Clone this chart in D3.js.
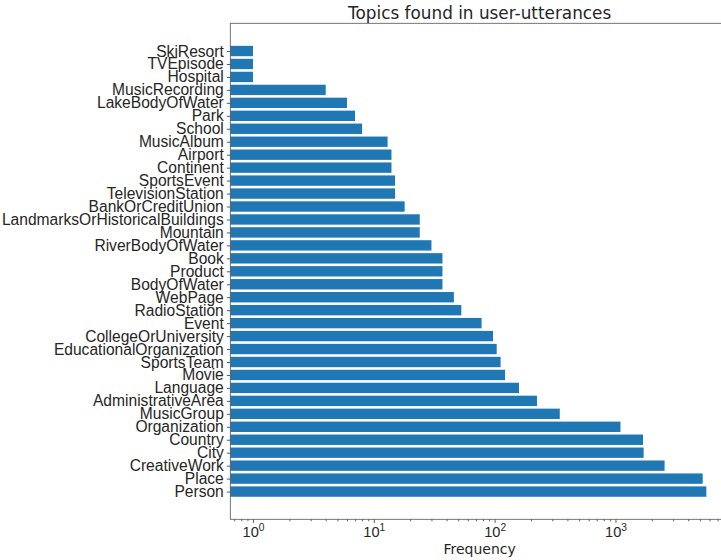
<!DOCTYPE html>
<html>
<head>
<meta charset="utf-8">
<script src="https://cdn.jsdelivr.net/npm/d3@7"></script>
<style>
  body { margin: 0; background: #fff; }
  svg { display: block; font-family: "DejaVu Sans", sans-serif; }
</style>
</head>
<body>
<div id="chart"></div>
<script>
// bottom to top, as plotted
var topics = ["Person", "Place", "CreativeWork", "City", "Country", "Organization",
	"MusicGroup", "AdministrativeArea", "Language", "Movie", "SportsTeam",
	"EducationalOrganization", "CollegeOrUniversity", "Event", "RadioStation",
	"WebPage", "BodyOfWater", "Product", "Book", "RiverBodyOfWater", "Mountain",
	"LandmarksOrHistoricalBuildings", "BankOrCreditUnion", "TelevisionStation",
	"SportsEvent", "Continent", "Airport", "MusicAlbum", "School", "Park",
	"LakeBodyOfWater", "MusicRecording", "Hospital", "TVEpisode", "SkiResort"];
var frequency = [5650, 5270, 2550, 1710, 1690, 1100,
	346, 224, 159, 122, 112,
	104, 97, 78, 53,
	46, 37, 37, 37, 30, 24,
	24, 18, 15,
	15, 14, 14, 13, 8, 7,
	6, 4, 1, 1, 1];
var majorTicks = [1, 10, 100, 1000];
var tickExp = ["0", "1", "2", "3"];
var title = "Topics found in user-utterances";
var xLabel = "Frequency";

function plot() {
	var width = 721, height = 560;
	var left = 230.3, right = 729, top = 23.3, bottom = 519.3;

	var svg = d3.select("#chart").append("svg")
		.attr("width", width)
		.attr("height", height);

	var x = d3.scaleLog()
		.domain([Math.pow(10, -0.1876), Math.pow(10, 3.9396)])
		.range([left, right]);

	var y = d3.scaleLinear()
		.domain([-2.14, topics.length + 1.14])
		.range([bottom, top]);

	var barH = (y(0) - y(0.8));

	svg.selectAll(".bar")
		.data(topics)
		.enter().append("rect")
		.attr("class", "bar")
		.attr("x", left)
		.attr("y", function(d, i) { return y(i) - barH / 2; })
		.attr("width", function(d, i) { return x(frequency[i]) - left; })
		.attr("height", barH)
		.style("fill", "#1f77b4");

	// minor ticks 2..9 per decade
	var minor = [];
	for (var e = -1; e < 4; e++) {
		for (var m = 2; m < 10; m++) {
			var v = m * Math.pow(10, e);
			if (v > x.domain()[0] && v < x.domain()[1]) minor.push(v);
		}
	}

	var xMinor = svg.append("g")
		.attr("transform", "translate(0," + bottom + ")")
		.call(d3.axisBottom(x).tickValues(minor).tickSize(2).tickFormat(""));
	xMinor.select(".domain").remove();

	var xAxis = svg.append("g")
		.attr("transform", "translate(0," + bottom + ")")
		.call(d3.axisBottom(x).tickValues(majorTicks).tickSize(3.5).tickPadding(3.5).tickFormat(""));
	xAxis.select(".domain").remove();
	xAxis.selectAll(".tick text")
		.attr("y", 18)
		.attr("dy", null)
		.style("font-size", "14.6px")
		.style("fill", "#262626")
		.each(function(d, i) {
			var t = d3.select(this);
			t.append("tspan").text("10");
			t.append("tspan").attr("dy", "-6").style("font-size", "10.2px").text(tickExp[i]);
		});

	var yAxis = svg.append("g")
		.attr("transform", "translate(" + left + ",0)")
		.call(d3.axisLeft(y)
			.tickValues(d3.range(topics.length))
			.tickFormat(function(i) { return topics[i]; })
			.tickSize(3.5).tickPadding(3));
	yAxis.select(".domain").remove();
	yAxis.selectAll(".tick text")
		.style("font-size", "15.6px")
		.style("fill", "#262626");

	svg.selectAll(".tick line").style("stroke", "#333").style("stroke-width", 0.8);

	// frame
	svg.append("rect")
		.attr("x", left)
		.attr("y", top)
		.attr("width", right - left)
		.attr("height", bottom - top)
		.style("fill", "none")
		.style("stroke", "#555")
		.style("stroke-width", 0.8);

	svg.append("text")
		.attr("x", (left + right) / 2)
		.attr("y", 19.3)
		.attr("text-anchor", "middle")
		.style("font-size", "16.85px")
		.style("fill", "#262626")
		.text(title);

	svg.append("text")
		.attr("x", (left + right) / 2)
		.attr("y", 554)
		.attr("text-anchor", "middle")
		.style("font-size", "14px")
		.style("fill", "#262626")
		.text(xLabel);
}

document.addEventListener("DOMContentLoaded", function() {
	plot();
});
</script>
</body>
</html>
